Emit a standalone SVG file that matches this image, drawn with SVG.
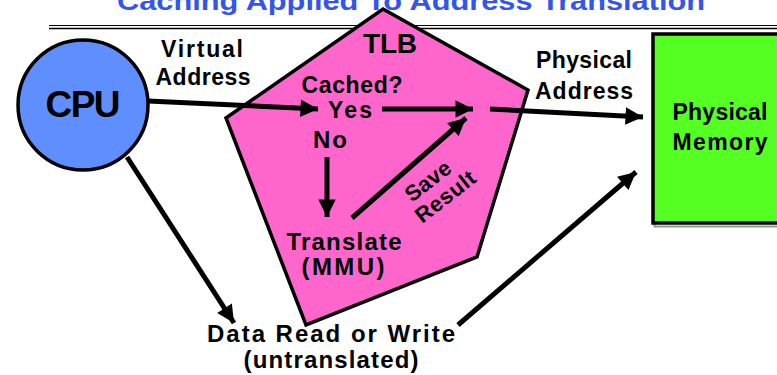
<svg xmlns="http://www.w3.org/2000/svg" width="777" height="375" viewBox="0 0 777 375">
<defs>
<marker id="ah" viewBox="0 0 10 10" refX="10" refY="5" markerWidth="3.6" markerHeight="3.5" markerUnits="strokeWidth" orient="auto">
<path d="M0,0 L10,5 L0,10 Z" fill="#000"/>
</marker>
</defs>
<style>
text{font-family:"Liberation Sans",Arial,sans-serif;font-weight:bold;fill:#000;text-anchor:middle}
.t{font-size:23px}
.c{stroke:#000;stroke-width:5;fill:none;marker-end:url(#ah)}
</style>
<rect width="777" height="375" fill="#fff"/>
<text x="411" y="10" style="font-size:25px;fill:#3355EE" textLength="588" lengthAdjust="spacingAndGlyphs">Caching Applied To Address Translation</text>
<line x1="49" y1="25.5" x2="777" y2="25.5" stroke="#000" stroke-width="1.2"/>
<line x1="49" y1="28.5" x2="777" y2="28.5" stroke="#000" stroke-width="1.6"/>

<g id="tlb">
<polygon points="383,9 528,90 477,257 306,325 226,118" fill="#FF66CC" stroke="#000" stroke-width="3.5" stroke-linejoin="miter"/>
<text x="390" y="53" style="font-size:28px" textLength="54">TLB</text>
<text x="352" y="93" style="font-size:23px" textLength="101">Cached?</text>
<text x="350" y="118" style="font-size:23px" textLength="44">Yes</text>
<text x="330" y="148" style="font-size:24px" textLength="34">No</text>
<text x="344" y="250" style="font-size:24px" textLength="115">Translate</text>
<text x="343" y="275" style="font-size:24px" textLength="83">(MMU)</text>
<g transform="translate(436,188) rotate(-38)">
<text x="-2" y="-3" style="font-size:22px" textLength="52">Save</text>
<text x="2" y="20" style="font-size:22px" textLength="70">Result</text>
</g>
</g>

<g id="cpu">
<circle cx="83" cy="105" r="65" fill="#5F8FFF" stroke="#000" stroke-width="3.5"/>
<text x="83" y="117" style="font-size:37px" textLength="75">CPU</text>
</g>

<g id="memory">
<rect x="654.5" y="36.5" width="130" height="190" fill="none" stroke="#999" stroke-width="2"/>
<rect x="653" y="34" width="130" height="189" fill="#55FF22" stroke="#000" stroke-width="3.5"/>
<text x="720" y="120" class="t" textLength="95">Physical</text>
<text x="720" y="150" class="t" textLength="95">Memory</text>
</g>

<g id="labels">
<text x="202" y="57" class="t" textLength="82">Virtual</text>
<text x="203" y="85" class="t" textLength="95">Address</text>
<text x="584" y="68" class="t" textLength="96">Physical</text>
<text x="584" y="99" class="t" textLength="98">Address</text>
<text x="331" y="342" style="font-size:24px" textLength="248">Data Read or Write</text>
<text x="331" y="368" style="font-size:24px" textLength="175">(untranslated)</text>
</g>

<g id="connectors">
<line class="c" x1="148" y1="101" x2="318" y2="109"/>
<line class="c" x1="382" y1="109" x2="473" y2="109"/>
<line class="c" x1="327" y1="157" x2="327" y2="217"/>
<line class="c" x1="352" y1="218" x2="466" y2="118"/>
<line class="c" x1="490" y1="109" x2="643" y2="117"/>
<line class="c" x1="127" y1="157" x2="234" y2="323"/>
<line class="c" x1="458" y1="325" x2="636" y2="172"/>
</g>
</svg>
